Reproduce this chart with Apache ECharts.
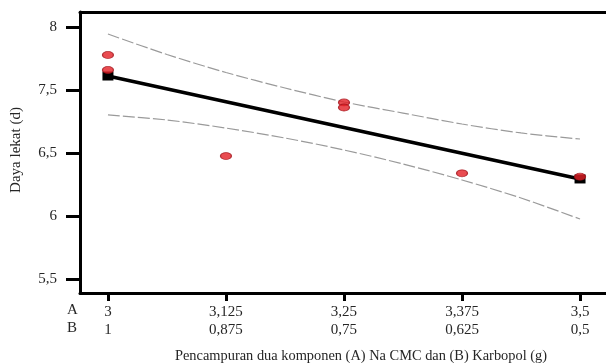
<!DOCTYPE html>
<html>
<head>
<meta charset="utf-8">
<script src="https://cdn.jsdelivr.net/npm/echarts@6/dist/echarts.min.js"></script>
<style>html,body{margin:0;padding:0;background:#fff}#c{width:606px;height:363px}</style>
</head>
<body>
<div id="c"></div>
<script>
// Category tick values (A: Na CMC, B: Karbopol)
var xTicksA = [3, 3.125, 3.25, 3.375, 3.5];
var xLabelsA = ['3', '3,125', '3,25', '3,375', '3,5'];
var xLabelsB = ['1', '0,875', '0,75', '0,625', '0,5'];
// Y ticks as printed in the figure
var yTickValues = [6, 6.5, 7, 7.5, 8];
var yTickLabels = ['5,5', '6', '6,5', '7,5', '8'];
// Observed values (Daya lekat)
var obsA = [3, 3, 3.125, 3.25, 3.25, 3.375, 3.5];
var obsY = [7.778, 7.659, 6.976, 7.401, 7.361, 6.839, 6.812];
// Regression line endpoints
var fitA = [3, 3.5];
var fitY = [7.611, 6.794];
// Confidence band
var bandA = [3, 3.0625, 3.125, 3.1875, 3.25, 3.3125, 3.375, 3.4375, 3.5];
var upperY = [7.944, 7.782, 7.639, 7.516, 7.405, 7.317, 7.230, 7.159, 7.111];
var lowerY = [7.302, 7.262, 7.198, 7.119, 7.024, 6.913, 6.786, 6.643, 6.476];

function zip(a, b) { return a.map(function (v, i) { return [v, b[i]]; }); }

var serif = 'Liberation Serif';
var txt = '#262626';
var chart = echarts.init(document.getElementById('c'));
var xMin = 2.9704, xMax = 3.5275;
chart.setOption({
  animation: false,
  backgroundColor: '#fff',
  grid: { left: 80, top: 12, right: 0, bottom: 70, show: false },
  xAxis: [{
    type: 'value', min: xMin, max: xMax,
    axisLine: { show: true, lineStyle: { color: '#000', width: 3 } },
    axisTick: { show: true, customValues: xTicksA, length: 8, lineStyle: { color: '#000', width: 3 } },
    axisLabel: {
      customValues: xTicksA, margin: 10, color: txt, fontFamily: serif, fontSize: 15, lineHeight: 18,
      formatter: function (v) { var i = xTicksA.indexOf(v); return i < 0 ? '' : xLabelsA[i] + '\n' + xLabelsB[i]; }
    },
    splitLine: { show: false }
  }, {
    type: 'value', min: xMin, max: xMax, position: 'top',
    axisLine: { show: true, lineStyle: { color: '#000', width: 3 } },
    axisTick: { show: false }, axisLabel: { show: false }, splitLine: { show: false }
  }],
  yAxis: {
    type: 'value', min: 5.889, max: 8.119,
    axisLine: { show: true, lineStyle: { color: '#000', width: 3 } },
    axisTick: { show: true, customValues: yTickValues, length: 14, lineStyle: { color: '#000', width: 3 } },
    axisLabel: {
      customValues: yTickValues, margin: 23, color: txt, fontFamily: serif, fontSize: 15,
      formatter: function (v) { var i = yTickValues.indexOf(v); return i < 0 ? '' : yTickLabels[i]; }
    },
    splitLine: { show: false }
  },
  graphic: [
    { type: 'text', left: 67, top: 303, style: { text: 'A', fontFamily: serif, fontSize: 15, fill: txt } },
    { type: 'text', left: 67, top: 321, style: { text: 'B', fontFamily: serif, fontSize: 15, fill: txt } },
    { type: 'text', x: 361, y: 356, style: { text: 'Pencampuran dua komponen (A) Na CMC dan (B) Karbopol (g)', fontFamily: serif, fontSize: 14.4, fill: txt, textAlign: 'center', textVerticalAlign: 'middle' } },
    { type: 'text', x: 16, y: 150, rotation: Math.PI / 2, style: { text: 'Daya lekat (d)', fontFamily: serif, fontSize: 15, fill: txt, textAlign: 'center', textVerticalAlign: 'middle' } }
  ],
  series: [
    { type: 'line', data: zip(bandA, upperY), symbol: 'none', smooth: 0.3, lineStyle: { color: '#9a9a9a', width: 1.2, type: [12, 3] }, z: 2 },
    { type: 'line', data: zip(bandA, lowerY), symbol: 'none', smooth: 0.3, lineStyle: { color: '#9a9a9a', width: 1.2, type: [12, 3] }, z: 2 },
    { type: 'line', data: zip(fitA, fitY), symbol: 'rect', symbolSize: [11, 9], itemStyle: { color: '#000' }, lineStyle: { color: '#000', width: 3.5 }, z: 3 },
    { type: 'scatter', data: zip(obsA, obsY), symbol: 'circle', symbolSize: [11, 7], itemStyle: { color: '#e41f26', borderColor: '#a01018', borderWidth: 1 }, z: 4 }
  ]
});
</script>
</body>
</html>
